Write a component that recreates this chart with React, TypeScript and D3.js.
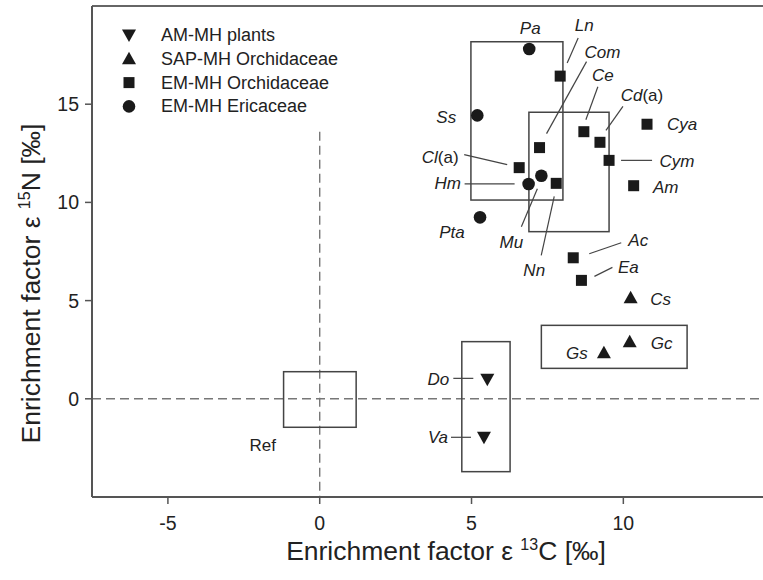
import React from "react";
import * as d3 from "d3";

// ---------- data ----------
const speciesNames = ["Pa", "Ln", "Ss", "Cya", "Ce", "Cd(a)", "Com", "Cym", "Cl(a)", "Mu", "Hm", "Nn", "Am", "Pta", "Ac", "Ea", "Cs", "Gc", "Gs", "Do", "Va"];
const speciesGroup = ["EMe", "EMo", "EMe", "EMo", "EMo", "EMo", "EMo", "EMo", "EMo", "EMe", "EMe", "EMo", "EMo", "EMe", "EMo", "EMo", "SAP", "SAP", "SAP", "AM", "AM"];
const eps13C = [6.9, 7.92, 5.19, 10.78, 8.7, 9.23, 7.24, 9.53, 6.57, 7.3, 6.88, 7.79, 10.34, 5.28, 8.35, 8.62, 10.24, 10.21, 9.36, 5.52, 5.41];
const eps15N = [17.81, 16.43, 14.43, 13.98, 13.6, 13.06, 12.79, 12.14, 11.77, 11.36, 10.94, 10.97, 10.85, 9.24, 7.18, 6.03, 5.15, 2.91, 2.35, 0.99, -1.96];

// boxes: [x0, x1, y0, y1] in data units
const boxX0 = [4.98, 6.89, 7.3, 4.68, -1.19];
const boxX1 = [8.01, 9.53, 12.1, 6.27, 1.2];
const boxY0 = [10.12, 8.51, 1.55, -3.71, -1.45];
const boxY1 = [18.18, 14.59, 3.74, 2.91, 1.38];

const xTicks = [-5, 0, 5, 10];
const yTicks = [0, 5, 10, 15];

const legendGroups = ["AM", "SAP", "EMo", "EMe"];
const legendLabels = ["AM-MH plants", "SAP-MH Orchidaceae", "EM-MH Orchidaceae", "EM-MH Ericaceae"];

// label layout (pixel offsets from the point): [dx, dy, leader x1, y1, x2, y2]
const labelLayout: Record<string, number[]> = {
  Pa: [1, -21],
  Ln: [24, -51, 18, -38, 7, -13],
  Com: [63, -96, 47, -86, 7, -14],
  Ce: [19, -57, 14, -45, 2, -12],
  "Cd(a)": [42, -47, 23, -36, 6, -12],
  Cya: [35, 0],
  Ss: [-31, 2],
  "Cl(a)": [-79, -11, -55, -13, -12, -3],
  Cym: [68, 1, 12, 0, 43, 0],
  Hm: [-81, -1, -64, 0, -14, 0],
  Mu: [-30, 66, -4, 13, -20, 51],
  Nn: [-22, 87, -2, 13, -15, 72],
  Am: [32, 1],
  Pta: [-28, 15],
  Ac: [65, -18, 48, -15, 16, -4],
  Ea: [47, -13, 31, -13, 13, -4],
  Cs: [30, 1],
  Gc: [32, 1],
  Gs: [-27, 0],
  Do: [-49, 0, -34, -1, -14, -1],
  Va: [-46, 0, -33, 0, -13, 0],
};

const W = 763;
const H = 580;
const LEFT = 92;
const RIGHT = 763;
const TOP = 6;
const BOTTOM = 497;

const FONT = "'Liberation Sans', Arial, Helvetica, sans-serif";
const INK = "#1a1a1a";
const LINE = "#444";

function Marker({ g, x, y }: { g: string; x: number; y: number }) {
  if (g === "EMe") return <circle cx={x} cy={y} r={6.3} fill={INK} />;
  if (g === "EMo") return <rect x={x - 5.5} y={y - 5.5} width={11} height={11} fill={INK} />;
  if (g === "SAP") {
    const p = `${x - 7},${y + 5.5} ${x + 7},${y + 5.5} ${x},${y - 7}`;
    return <polygon points={p} fill={INK} />;
  }
  const p = `${x - 7},${y - 5.5} ${x + 7},${y - 5.5} ${x},${y + 7}`;
  return <polygon points={p} fill={INK} />;
}

function LabelText({ name, x, y }: { name: string; x: number; y: number }) {
  const m = name.match(/^(.*?)(\(a\))?$/);
  const base = m ? m[1] : name;
  const suffix = m && m[2] ? m[2] : "";
  return (
    <text x={x} y={y} textAnchor="middle" dominantBaseline="central" fontFamily={FONT} fontSize={17} fill="#222">
      <tspan fontStyle="italic">{base}</tspan>
      {suffix && <tspan>{suffix}</tspan>}
    </text>
  );
}

export default function App() {
  const x = d3.scaleLinear().domain([-7.5, 14.6]).range([LEFT, 763]);
  const y = d3.scaleLinear().domain([-5, 20]).range([BOTTOM, TOP]);

  return (
    <svg width={W} height={H} style={{ position: "absolute", left: 0, top: 0, background: "#fff" }}>
      {/* reference dashed lines */}
      <line x1={LEFT} x2={RIGHT} y1={y(0)} y2={y(0)} stroke="#777" strokeWidth={1.4} strokeDasharray="9,5" />
      <line x1={x(0)} x2={x(0)} y1={y(13.6)} y2={BOTTOM} stroke="#777" strokeWidth={1.4} strokeDasharray="9,5" />

      {/* boxes */}
      {boxX0.map((b, i) => (
        <rect
          key={i}
          x={x(b)}
          y={y(boxY1[i])}
          width={x(boxX1[i]) - x(b)}
          height={y(boxY0[i]) - y(boxY1[i])}
          fill="none"
          stroke={LINE}
          strokeWidth={1.5}
        />
      ))}

      {/* frame */}
      <line x1={LEFT} x2={RIGHT} y1={TOP} y2={TOP} stroke="#666" strokeWidth={2} />
      <line x1={LEFT} x2={RIGHT} y1={BOTTOM} y2={BOTTOM} stroke="#555" strokeWidth={2} />
      <line x1={LEFT} x2={LEFT} y1={TOP} y2={BOTTOM} stroke="#555" strokeWidth={2} />

      {/* ticks */}
      {xTicks.map((t) => (
        <g key={"x" + t}>
          <line x1={x(t)} x2={x(t)} y1={BOTTOM} y2={BOTTOM + 7} stroke="#555" strokeWidth={1.5} />
          <text x={x(t)} y={BOTTOM + 26} textAnchor="middle" dominantBaseline="central" fontFamily={FONT} fontSize={19.5} fill="#222">
            {t}
          </text>
        </g>
      ))}
      {yTicks.map((t) => (
        <g key={"y" + t}>
          <line x1={LEFT - 7} x2={LEFT} y1={y(t)} y2={y(t)} stroke="#555" strokeWidth={1.5} />
          <text x={LEFT - 13} y={y(t)} textAnchor="end" dominantBaseline="central" fontFamily={FONT} fontSize={19.5} fill="#222">
            {t}
          </text>
        </g>
      ))}

      {/* axis titles */}
      <text x={446} y={560} textAnchor="middle" fontFamily={FONT} fontSize={26.5} fill="#222">
        Enrichment factor ε <tspan fontSize={16} dy={-10}>13</tspan>
        <tspan dy={10}>C [‰]</tspan>
      </text>
      <text
        transform={`translate(40, ${(TOP + BOTTOM) / 2 + 32}) rotate(-90)`}
        textAnchor="middle"
        fontFamily={FONT}
        fontSize={26.5}
        fill="#222"
      >
        Enrichment factor ε <tspan fontSize={16} dy={-10}>15</tspan>
        <tspan dy={10}>N [‰]</tspan>
      </text>

      {/* leader lines */}
      {speciesNames.map((n, i) => {
        const l = labelLayout[n];
        if (!l || l.length < 6) return null;
        const px = x(eps13C[i]);
        const py = y(eps15N[i]);
        return <line key={"l" + n} x1={px + l[2]} y1={py + l[3]} x2={px + l[4]} y2={py + l[5]} stroke={LINE} strokeWidth={1.2} />;
      })}

      {/* points */}
      {speciesNames.map((n, i) => (
        <Marker key={"m" + n} g={speciesGroup[i]} x={x(eps13C[i])} y={y(eps15N[i])} />
      ))}

      {/* labels */}
      {speciesNames.map((n, i) => {
        const l = labelLayout[n];
        return <LabelText key={"t" + n} name={n} x={x(eps13C[i]) + l[0]} y={y(eps15N[i]) + l[1]} />;
      })}
      <text x={x(0) - 57} y={y(0) + 47} textAnchor="middle" dominantBaseline="central" fontFamily={FONT} fontSize={17} fill="#222">
        Ref
      </text>

      {/* legend */}
      {legendGroups.map((g, i) => (
        <g key={"lg" + g}>
          <Marker g={g} x={129} y={35 + i * 23.8} />
          <text x={161} y={35 + i * 23.8} dominantBaseline="central" fontFamily={FONT} fontSize={18} fill="#222">
            {legendLabels[i]}
          </text>
        </g>
      ))}
    </svg>
  );
}
